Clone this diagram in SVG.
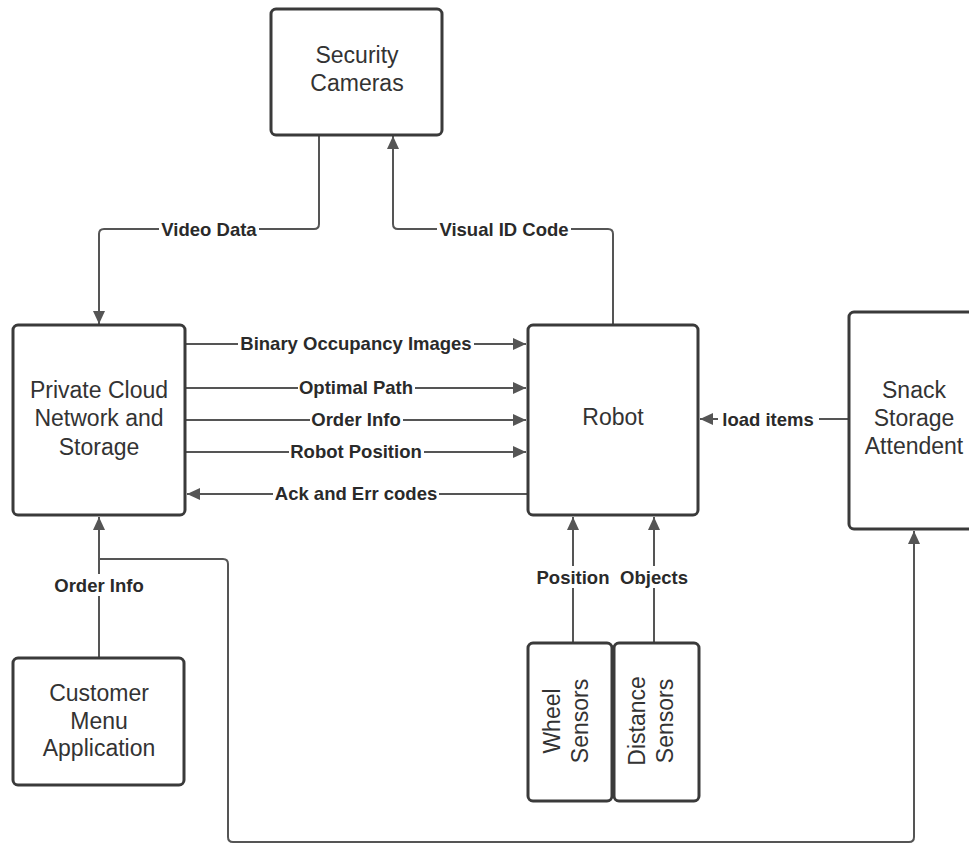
<svg xmlns="http://www.w3.org/2000/svg" width="969" height="846" viewBox="0 0 969 846">
<style>
.box{fill:#fff;stroke:#3a3a3a;stroke-width:3}
.nt{font-family:"Liberation Sans",Arial,sans-serif;font-size:23px;fill:#333;text-anchor:middle;dominant-baseline:central}
.lbl{font-family:"Liberation Sans",Arial,sans-serif;font-size:18.5px;font-weight:bold;fill:#2a2a2a;text-anchor:middle;dominant-baseline:central}
.ln{fill:none;stroke:#555;stroke-width:2}
.bg{fill:#fff}
</style>
<defs>
<marker id="ah" markerUnits="userSpaceOnUse" markerWidth="14" markerHeight="12" refX="13" refY="6" orient="auto">
<path d="M0,0 L13,6 L0,12 Z" fill="#555"/>
</marker>
</defs>
<rect width="969" height="846" fill="#fff"/>
<g id="connectors">
<path class="ln" d="M319,135 L319,224 Q319,229 314,229 L104,229 Q99,229 99,234 L99,324" marker-end="url(#ah)"/>
<path class="ln" d="M613,325 L613,234 Q613,229 608,229 L398,229 Q393,229 393,224 L393,136" marker-end="url(#ah)"/>
<path class="ln" d="M186,344 L526,344" marker-end="url(#ah)"/>
<path class="ln" d="M186,388 L526,388" marker-end="url(#ah)"/>
<path class="ln" d="M186,420 L526,420" marker-end="url(#ah)"/>
<path class="ln" d="M186,452 L526,452" marker-end="url(#ah)"/>
<path class="ln" d="M527,494 L187,494" marker-end="url(#ah)"/>
<path class="ln" d="M849,419 L700,419" marker-end="url(#ah)"/>
<path class="ln" d="M99,658 L99,517" marker-end="url(#ah)"/>
<path class="ln" d="M99,559 L223,559 Q228,559 228,564 L228,837 Q228,842 233,842 L909,842 Q914,842 914,837 L914,531" marker-end="url(#ah)"/>
<path class="ln" d="M573,643 L573,517" marker-end="url(#ah)"/>
<path class="ln" d="M654,643 L654,517" marker-end="url(#ah)"/>
<rect class="bg" x="159" y="220" width="100" height="18"/>
<text class="lbl" x="209" y="229">Video Data</text>
<rect class="bg" x="437" y="220" width="134" height="18"/>
<text class="lbl" x="504" y="229">Visual ID Code</text>
<rect class="bg" x="238" y="335" width="236" height="18"/>
<text class="lbl" x="356" y="343">Binary Occupancy Images</text>
<rect class="bg" x="298" y="379" width="117" height="18"/>
<text class="lbl" x="356" y="387">Optimal Path</text>
<rect class="bg" x="310" y="411" width="93" height="18"/>
<text class="lbl" x="356" y="419">Order Info</text>
<rect class="bg" x="289" y="443" width="135" height="18"/>
<text class="lbl" x="356" y="451">Robot Position</text>
<rect class="bg" x="273" y="485" width="166" height="18"/>
<text class="lbl" x="356" y="493">Ack and Err codes</text>
<rect class="bg" x="718" y="410" width="101" height="18"/>
<text class="lbl" x="768" y="419">load items</text>
<rect class="bg" x="52" y="574" width="94" height="22"/>
<text class="lbl" x="99" y="585">Order Info</text>
<rect class="bg" x="536" y="566" width="74" height="22"/>
<text class="lbl" x="573" y="577">Position</text>
<rect class="bg" x="620" y="566" width="68" height="22"/>
<text class="lbl" x="654" y="577">Objects</text>
</g>
<g id="security-cameras">
<rect class="box" x="271" y="9" width="171" height="126" rx="5"/>
<text class="nt" x="357" y="55">Security</text>
<text class="nt" x="357" y="83">Cameras</text>
</g>
<g id="private-cloud">
<rect class="box" x="13" y="325" width="172" height="190" rx="5"/>
<text class="nt" x="99" y="390">Private Cloud</text>
<text class="nt" x="99" y="418">Network and</text>
<text class="nt" x="99" y="447">Storage</text>
</g>
<g id="robot">
<rect class="box" x="528" y="325" width="170" height="190" rx="5"/>
<text class="nt" x="613" y="417">Robot</text>
</g>
<g id="snack-storage">
<rect class="box" x="849" y="312" width="130" height="217" rx="5"/>
<text class="nt" x="914" y="390">Snack</text>
<text class="nt" x="914" y="418">Storage</text>
<text class="nt" x="914" y="446">Attendent</text>
</g>
<g id="customer-menu">
<rect class="box" x="13" y="658" width="171" height="127" rx="5"/>
<text class="nt" x="99" y="693">Customer</text>
<text class="nt" x="99" y="721">Menu</text>
<text class="nt" x="99" y="748">Application</text>
</g>
<g id="wheel-sensors">
<rect class="box" x="528" y="643" width="84" height="158" rx="5"/>
<g transform="translate(566,721) rotate(-90)">
<text class="nt" x="0" y="-14">Wheel</text>
<text class="nt" x="0" y="14">Sensors</text>
</g>
</g>
<g id="distance-sensors">
<rect class="box" x="614" y="643" width="85" height="158" rx="5"/>
<g transform="translate(651,721) rotate(-90)">
<text class="nt" x="0" y="-14">Distance</text>
<text class="nt" x="0" y="14">Sensors</text>
</g>
</g>
</svg>
